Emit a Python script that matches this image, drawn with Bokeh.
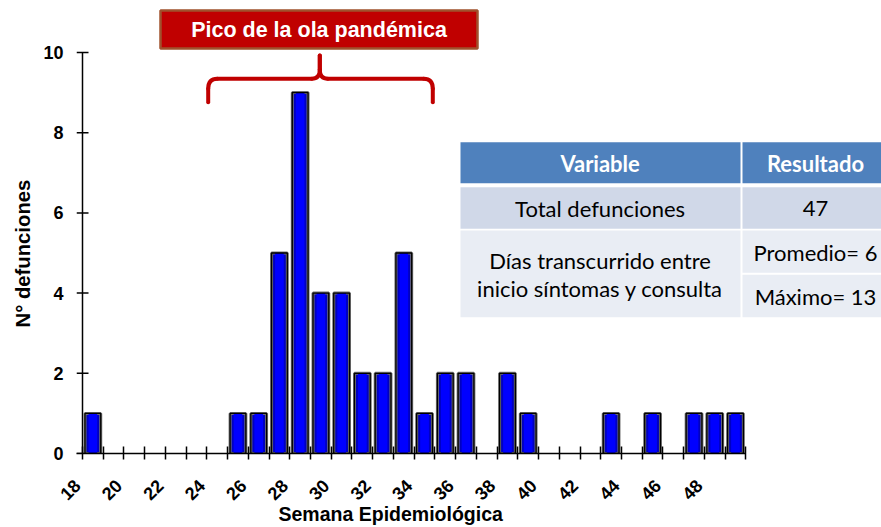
import math
from bokeh.plotting import figure
from bokeh.models import FixedTicker, Range1d, ColumnDataSource, Title
from bokeh.core.properties import value
from bokeh.embed import file_html
from bokeh.resources import INLINE

# ---------------- data ----------------
weeks = [18, 25, 26, 27, 28, 29, 30, 31, 32, 33, 34, 35, 36, 38, 39, 43, 45, 47, 48, 49]
deaths = [1, 1, 1, 5, 9, 4, 4, 2, 2, 5, 1, 2, 2, 2, 1, 1, 1, 1, 1, 1]
x_ticks = [18, 20, 22, 24, 26, 28, 30, 32, 34, 36, 38, 40, 42, 44, 46, 48]
x_minor_ticks = list(range(18, 51))
y_ticks = [0, 2, 4, 6, 8, 10]
x_label = "Semana Epidemiológica"
y_label = "N° defunciones"
peak_title = "Pico de la ola pandémica"
table_header = ["Variable", "Resultado"]
table_row1 = ["Total defunciones", "47"]
table_row2_label = ["Días transcurrido entre", "inicio síntomas y consulta"]
table_row2_values = ["Promedio= 6", "Máximo= 13"]

# ---------------- geometry ----------------
W, H = 881, 527
AXIS_PX = 82          # page x of week 18 (y axis line)
FRAME_L, FRAME_B = 76, 74
PX_X, PX_Y = 20.73, 40.1
X0 = 18
frame_h = H - FRAME_B
LABEL_SHIFT = 0.25  # rotated tick labels end at their tick


def X(px):  # page pixel -> data x
    return X0 + (px - AXIS_PX) / PX_X


def Y(py):  # page pixel -> data y
    return (frame_h - py) / PX_Y


p = figure(width=W, height=H, output_backend="svg", toolbar_location=None,
           x_range=Range1d(X(FRAME_L), X(W)), y_range=Range1d(0, frame_h / PX_Y),
           min_border_left=FRAME_L, min_border_right=0, min_border_top=0,
           min_border_bottom=FRAME_B)
p.outline_line_color = None
p.grid.visible = False
p.background_fill_color = "white"

FONT = "Liberation Sans"

xa = p.xaxis[0]
label_pos = [t - LABEL_SHIFT for t in x_ticks]
xa.ticker = FixedTicker(ticks=label_pos, minor_ticks=x_minor_ticks)
xa.major_label_overrides = {pos: str(t) for pos, t in zip(label_pos, x_ticks)}
xa.bounds = (X(FRAME_L) + 0.01, 50)
xa.major_label_orientation = math.pi / 4
xa.major_label_text_font = FONT
xa.major_label_text_font_style = "bold"
xa.major_label_text_font_size = "18px"
xa.major_label_text_color = "black"
xa.major_label_standoff = 23
xa.major_tick_in = 0
xa.major_tick_out = 6
xa.major_tick_line_color = None
xa.minor_tick_in = 7
xa.minor_tick_out = 6
xa.axis_line_width = 1.5
xa.minor_tick_line_width = 1.5

# y axis: labels from the axis, line and ticks drawn at week 18
ya = p.yaxis[0]
ya.ticker = FixedTicker(ticks=y_ticks, minor_ticks=[])
ya.bounds = (0, 10)
ya.major_label_text_font = FONT
ya.major_label_text_font_style = "bold"
ya.major_label_text_font_size = "18px"
ya.major_label_text_color = "black"
ya.major_label_standoff = 13
ya.major_tick_in = 0
ya.major_tick_out = 0
ya.minor_tick_in = 0
ya.minor_tick_out = 0
ya.axis_line_color = None
ya.major_tick_line_color = None

p.segment(x0=[X0], y0=[0], x1=[X0], y1=[10], line_color="black", line_width=1.5)
p.segment(x0=[X(AXIS_PX - 6)] * len(y_ticks), y0=y_ticks,
          x1=[X(AXIS_PX + 6)] * len(y_ticks), y1=y_ticks,
          line_color="black", line_width=1.5)

x_title = Title(text=x_label, align="left", offset=278 - FRAME_L, vertical_align="top",
                text_font=FONT, text_font_style="bold", text_font_size="19.5px",
                text_color="black", standoff=0)
try:
    x_title.standoff = -12
except Exception:
    x_title.standoff = 0
p.add_layout(x_title, "below")
p.add_layout(Title(text=y_label, align="left", offset=453 - 327,
                   vertical_align="top",
                   text_font=FONT, text_font_style="bold", text_font_size="20.3px",
                   text_color="black", standoff=10), "left")

# ---------------- bars ----------------
src = ColumnDataSource(dict(x=[w + 0.5 for w in weeks], top=deaths))
p.vbar(x="x", top="top", bottom=0, width=0.76, source=src,
       fill_color="#0000C0", line_color="#707070", line_width=3)
p.vbar(x="x", top="top", bottom=0, width=0.42, source=src,
       fill_color="#0000FF", line_color=None)
p.vbar(x="x", top="top", bottom=0, width=0.76, source=src,
       fill_alpha=0, line_color="black", line_width=1.3)

# ---------------- brace ----------------
RED = "#C00000"
bl, br, bm = 207.7, 432.3, 319.3
bbot, bh, btop = 101.7, 78.3, 55
seg_x0 = [X(bl), X(br), X(bl + 9), X(br - 9), X(bm), X(bm)]
seg_y0 = [Y(bbot), Y(bbot), Y(bh), Y(bh), Y(bh - 9), Y(bh - 9)]
seg_x1 = [X(bl), X(br), X(bm - 8), X(bm + 8), X(bm), X(bm)]
seg_y1 = [Y(bh + 10), Y(bh + 10), Y(bh), Y(bh), Y(btop), Y(btop)]
p.segment(x0=seg_x0, y0=seg_y0, x1=seg_x1, y1=seg_y1, line_color=RED,
          line_width=4, line_cap="round")
p.quadratic(x0=[X(bl), X(br), X(bm - 8), X(bm + 8)],
            y0=[Y(bh + 10), Y(bh + 10), Y(bh), Y(bh)],
            x1=[X(bl + 9), X(br - 9), X(bm), X(bm)],
            y1=[Y(bh), Y(bh), Y(bh - 9), Y(bh - 9)],
            cx=[X(bl), X(br), X(bm), X(bm)],
            cy=[Y(bh), Y(bh), Y(bh), Y(bh)],
            line_color=RED, line_width=4, line_cap="round")

# ---------------- title box ----------------
p.quad(left=[X(160)], right=[X(477)], top=[Y(10)], bottom=[Y(48)],
       fill_color=RED, line_color="#A0522D", line_width=2.5)
p.text(x=[X(318.5)], y=[Y(29.2)], text=[peak_title], text_align="center",
       text_baseline="middle", text_font=value(FONT), text_font_style="bold",
       text_font_size="21.5px", text_color="white")

# ---------------- table ----------------
TL, TS, TR = 460, 740.5, 900
cells = dict(
    left=[TL, TS + 1.5, TL, TS + 1.5, TL, TS + 1.5, TS + 1.5],
    right=[TS - 0.5, TR, TS - 0.5, TR, TS - 0.5, TR, TR],
    top=[141.7, 141.7, 186.7, 186.7, 230, 230, 274.3],
    bottom=[182.7, 182.7, 228.3, 228.3, 316.7, 272.3, 316.7],
    color=["#4F81BD", "#4F81BD", "#D0D8E8", "#D0D8E8", "#E9EDF4", "#E9EDF4", "#E9EDF4"],
)
p.quad(left=[X(v) for v in cells["left"]], right=[X(v) for v in cells["right"]],
       top=[Y(v) for v in cells["top"]], bottom=[Y(v) for v in cells["bottom"]],
       fill_color=cells["color"], line_color=None)

TFONT = "Lato"
LC, RC = 599.6, 815
p.text(x=[X(LC), X(RC)], y=[Y(163.3), Y(163.3)], text=table_header,
       text_align="center", text_baseline="middle", text_font=value(TFONT),
       text_font_style="bold", text_font_size="22px", text_color="white")
body_x = [X(LC), X(RC), X(LC), X(LC), X(RC), X(RC)]
body_y = [Y(207.5), Y(207.5), Y(259.7), Y(288), Y(252), Y(295.8)]
body_t = table_row1 + table_row2_label + table_row2_values
p.text(x=body_x, y=body_y, text=body_t, text_align="center",
       text_baseline="middle", text_font=value(TFONT),
       text_font_size="22px", text_color="black")

open("out.html", "w").write(file_html(p, INLINE))
